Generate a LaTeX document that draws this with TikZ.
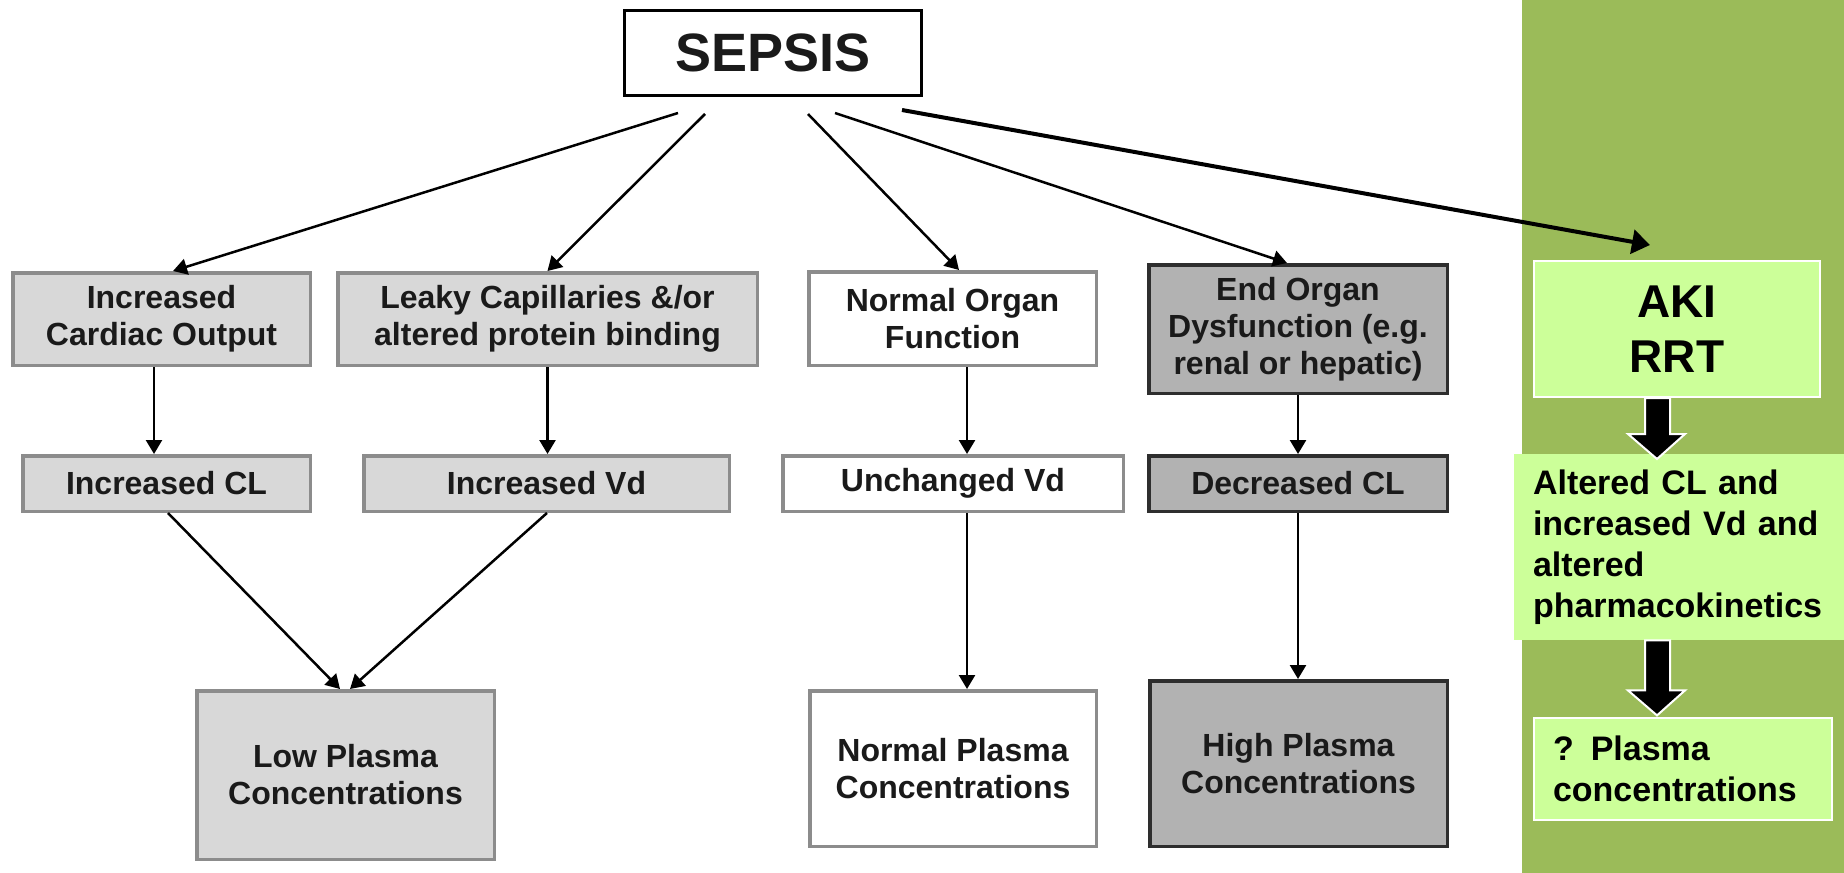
\documentclass[tikz,border=0pt]{standalone}
\usepackage{fontspec}
\setmainfont{Liberation Sans}
\usetikzlibrary{arrows.meta}
\definecolor{lightfill}{HTML}{D8D8D8}
\definecolor{graybd}{HTML}{8C8C8C}
\definecolor{darkfill}{HTML}{B2B2B2}
\definecolor{darkbd}{HTML}{2E2E2E}
\definecolor{panelgreen}{HTML}{9BBB59}
\definecolor{boxgreen}{HTML}{CCFF99}
\definecolor{txt}{HTML}{1A1A1A}
\begin{document}
\begin{tikzpicture}[x=0.5pt,y=-0.5pt,
  fc/.style={draw, line width=1.75pt, align=center, inner sep=0pt, text=txt,
    font=\bfseries\fontsize{16}{18.5}\selectfont},
  lightbox/.style={fc, fill=lightfill, draw=graybd},
  whitebox/.style={fc, fill=white, draw=graybd},
  darkbox/.style={fc, fill=darkfill, draw=darkbd},
  arr/.style={line width=1.25pt, -{Triangle[length=7pt,width=8pt]}},
  bigarr/.style={line width=2pt, -{Triangle[length=9pt,width=12pt]}},
  greenbox/.style={fill=boxgreen, text=black},
  blockarr/.style={fill=black, draw=white, line width=1pt, line join=miter}
]
\useasboundingbox (0,0) rectangle (1844,873);
\fill[white] (0,0) rectangle (1844,873);
\fill[panelgreen] (1522,0) rectangle (1844,873);

% top
\node[draw=black, line width=1.5pt, fill=white, minimum width=148.5pt, minimum height=42.5pt,
  font=\bfseries\fontsize{27}{30}\selectfont, text=txt] (sepsis) at (773,53) {SEPSIS};

% second row
\node[lightbox, minimum width=148.75pt, minimum height=46.25pt] (co) at (161.5,319) {Increased\\Cardiac Output};
\node[lightbox, minimum width=209.75pt, minimum height=46.25pt] (leaky) at (547.5,319) {Leaky Capillaries \&/or\\altered protein binding};
\node[whitebox, minimum width=143.75pt, minimum height=46.75pt] (normorg) at (952.5,318.5) {Normal Organ\\Function};
\node[darkbox, minimum width=149.25pt, minimum height=64.25pt] (endorg) at (1298,329) {End Organ\\Dysfunction (e.g.\\renal or hepatic)};

% third row
\node[lightbox, minimum width=143.75pt, minimum height=27.75pt] (inccl) at (166.5,483.5) {Increased CL};
\node[lightbox, minimum width=182.75pt, minimum height=27.75pt] (incvd) at (546.5,483.5) {Increased Vd};
\node[whitebox, minimum width=170.25pt, minimum height=27.75pt] (unchvd) at (953,483.5) {Unchanged Vd};
\node[darkbox, minimum width=149.25pt, minimum height=27.75pt] (deccl) at (1298,483.5) {Decreased CL};

% bottom row
\node[lightbox, minimum width=148.75pt, minimum height=84.25pt] (lowpl) at (345.5,775) {Low Plasma\\Concentrations};
\node[whitebox, minimum width=143.25pt, minimum height=77.75pt] (normpl) at (953,768.5) {Normal Plasma\\Concentrations};
\node[darkbox, minimum width=148.75pt, minimum height=82.75pt] (highpl) at (1298.5,763.5) {High Plasma\\Concentrations};

% green side
\node[greenbox, draw=white, line width=1pt, minimum width=143pt, minimum height=68pt, align=center,
  font=\bfseries\fontsize{23}{27.5}\selectfont] (aki) at (1677,329) {AKI\\RRT};
\node[greenbox, text width=146pt, inner xsep=9.5pt, inner ysep=0pt, minimum height=93pt, align=left,
  font=\bfseries\fontsize{17}{20.5}\selectfont] (altered) at (1679,547)
  {Altered CL and\\increased Vd and\\altered\\pharmacokinetics};
\node[greenbox, draw=white, line width=1pt, text width=130pt, inner xsep=9.5pt, inner ysep=0pt, minimum height=51pt, align=left,
  font=\bfseries\fontsize{17}{20.5}\selectfont] (plasma) at (1683,769)
  {? Plasma\\concentrations};

% arrows from sepsis
\draw[arr] ([xshift=-47.5pt,yshift=-8pt]sepsis.south) -- ([xshift=5.75pt]co.north);
\draw[arr] ([xshift=-34pt,yshift=-8.5pt]sepsis.south) -- (leaky.north);
\draw[arr] ([xshift=17.5pt,yshift=-8.5pt]sepsis.south) -- ([xshift=3.25pt]normorg.north);
\draw[arr] ([xshift=31pt,yshift=-8pt]sepsis.south) -- ([xshift=-5.5pt]endorg.north);
\draw[bigarr] ([xshift=64.5pt,yshift=-6.5pt]sepsis.south) -- ([xshift=-13.5pt,yshift=7.5pt]aki.north);

% vertical arrows
\draw[arr] ([xshift=-3.75pt]co.south) -- ([xshift=-3.75pt]co.south |- inccl.north);
\draw[arr] (leaky.south) -- (leaky.south |- incvd.north);
\draw[arr] ([xshift=7.25pt]normorg.south) -- ([xshift=7.25pt]normorg.south |- unchvd.north);
\draw[arr] ([xshift=7pt]unchvd.south) -- ([xshift=7pt]unchvd.south |- normpl.north);
\draw[arr] (endorg.south) -- (endorg.south |- deccl.north);
\draw[arr] (deccl.south) -- (deccl.south |- highpl.north);

% converging arrows
\draw[arr] ([xshift=0.75pt]inccl.south) -- ([xshift=-2.75pt]lowpl.north);
\draw[arr] ([xshift=0.25pt]incvd.south) -- ([xshift=2.25pt]lowpl.north);

% block arrows
\draw[blockarr] ([xshift=-16pt]aki.south) -- ++(12.5pt,0pt) -- ++(0pt,-18pt) -- ++(7.5pt,0pt)
  -- ++(-14pt,-12.5pt) -- ++(-14.5pt,12.5pt) -- ++(8.5pt,0pt) -- cycle;
\draw[blockarr] ([xshift=-17pt]altered.south) -- ++(12.5pt,0pt) -- ++(0pt,-25pt) -- ++(7.5pt,0pt)
  -- ++(-14pt,-12.5pt) -- ++(-14.5pt,12.5pt) -- ++(8.5pt,0pt) -- cycle;
\end{tikzpicture}
\end{document}
